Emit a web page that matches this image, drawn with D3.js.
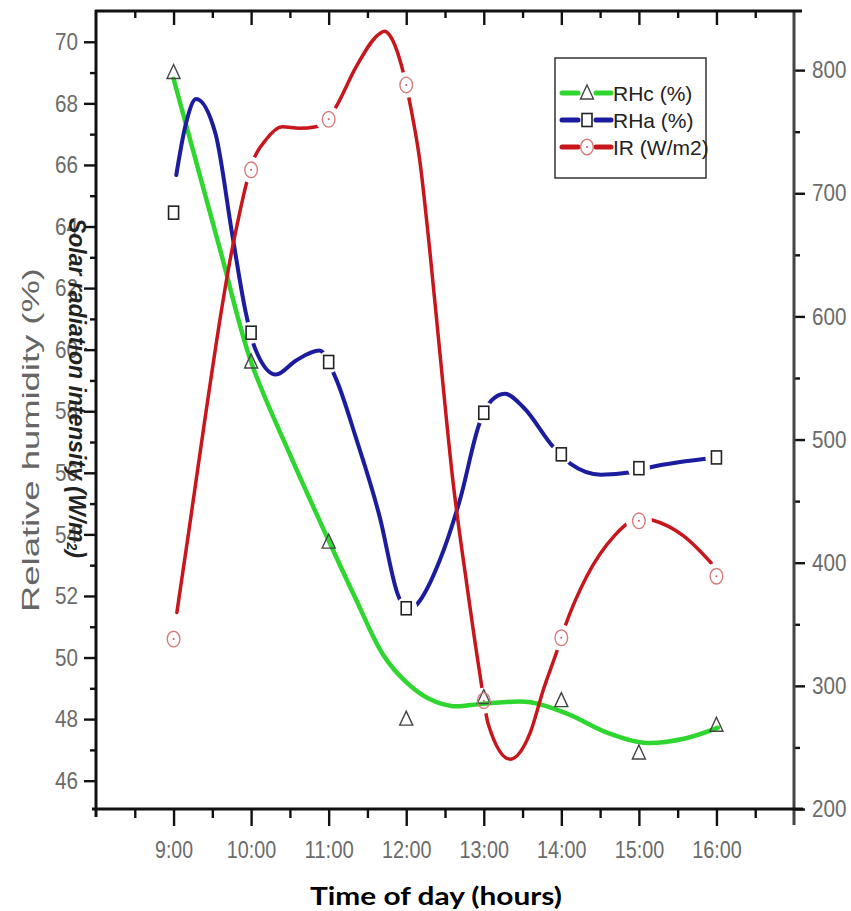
<!DOCTYPE html>
<html><head><meta charset="utf-8">
<script src="https://cdn.jsdelivr.net/npm/d3@7"></script>
<style>html,body{margin:0;padding:0;background:#fff;} svg{display:block;}</style>
</head><body>
<script>
// ---------------- data ----------------
const hours = [9, 10, 11, 12, 13, 14, 15, 16];
const hourLabels = ["9:00", "10:00", "11:00", "12:00", "13:00", "14:00", "15:00", "16:00"];
const xMinorTicks = [8.5, 9.5, 10.5, 11.5, 12.5, 13.5, 14.5, 15.5, 16.5];

// measured points (markers)
const rhcValues = [69.0, 59.6, 53.75, 48.0, 48.7, 48.6, 46.9, 47.8];   // RHc (%) - left axis
const rhaValues = [64.45, 60.55, 59.6, 51.6, 57.95, 56.6, 56.15, 56.5]; // RHa (%) - left axis
const irValues  = [338, 719, 760, 788, 288, 339, 434, 389];             // IR (W/m2) - right axis

// smoothed curves as drawn in the figure: [hour, value]
const rhcCurve = [[9.0,68.8],[9.6,63.25],[10.0,59.6],[10.5,56.6],[11.0,53.8],[11.35,51.9],[11.7,50.1],[12.0,49.2],[12.3,48.65],[12.6,48.42],[13.0,48.5],[13.6,48.55],[14.08,48.17],[14.6,47.55],[15.06,47.23],[15.58,47.36],[16.02,47.72]];
const rhaCurve = [[9.035,65.67],[9.15,67.24],[9.29,68.14],[9.54,67.02],[9.755,63.77],[9.93,61.22],[10.045,60.08],[10.32,59.19],[10.58,59.65],[10.88,59.97],[11.095,59.05],[11.35,57.15],[11.66,54.55],[11.89,52.06],[12.02,51.5],[12.15,51.76],[12.43,53.14],[12.69,55.1],[12.95,57.64],[13.1,58.35],[13.27,58.57],[13.51,58.13],[13.9,56.83],[14.12,56.29],[14.51,55.94],[14.9,56.02],[15.15,56.18],[15.97,56.48]];
const irCurve  = [[9.043,359.5],[9.194,424.3],[9.41,518.9],[9.605,600],[9.734,647.6],[9.842,681.1],[9.929,705.4],[10.014,724.4],[10.188,743.2],[10.403,754],[10.62,752.7],[10.836,754],[11.0,761],[11.095,770.2],[11.354,802.7],[11.66,829.8],[11.72,831.5],[11.785,828.4],[11.937,804.1],[12.057,770.2],[12.174,727],[12.303,654],[12.43,573],[12.605,464.9],[12.778,383.8],[12.95,309.5],[13.058,268.9],[13.34,240.5],[13.6,262.2],[13.77,297.3],[13.944,328.3],[14.05,348.6],[14.33,389.2],[14.68,421.6],[14.94,435.1],[15.05,436.5],[15.15,435.1],[15.58,421.6],[15.93,400]];

const leftTicks = [46, 48, 50, 52, 54, 56, 58, 60, 62, 64, 66, 68, 70];
const leftMinorTicks = [47, 49, 51, 53, 55, 57, 59, 61, 63, 65, 67, 69];
const rightTicks = [200, 300, 400, 500, 600, 700, 800];
const rightMinorTicks = [250, 350, 450, 550, 650, 750];

const legendLabels = ["RHc (%)", "RHa (%)", "IR (W/m2)"];
const leftTitle = "Relative humidity (%)";
const rightTitle = "Solar radiation intensity (W/m";
const xTitle = "Time of day (hours)";

// ---------------- layout ----------------
const W = 851, H = 911;
const plot = {left: 96, right: 794, top: 11, bottom: 809};
const colors = {rhc: "#2fd62f", rha: "#1c1c9e", ir: "#c8161d"};
const tickFont = "'Liberation Sans',Arial,sans-serif";

const svg = d3.select("body").append("svg").attr("width", W).attr("height", H);
svg.append("rect").attr("width", W).attr("height", H).attr("fill", "#fff");
const defs = svg.append("defs");

const x = d3.scaleLinear().domain([8, 17]).range([plot.left, plot.right]);
const yL = d3.scaleLinear().domain([45.08, 71.0]).range([plot.bottom, plot.top]);
const yR = d3.scaleLinear().domain([200, 848]).range([plot.bottom, plot.top]);

function narrowLen(s) {
  return [...s].reduce((a, c) => a + (c === ":" ? 3.5 : 11.5), 0);
}
function styleAxis(g, w) {
  g.select(".domain").remove();
  g.selectAll(".tick line").attr("stroke", "#111").attr("stroke-width", w);
  g.selectAll(".tick text").attr("font-family", tickFont).attr("font-size", 24).attr("fill", "#6b6b6b")
    .each(function () {
      const t = d3.select(this), s = t.text();
      if (s) t.attr("textLength", narrowLen(s)).attr("lengthAdjust", "spacingAndGlyphs");
    });
}

// left axis
svg.append("g").attr("transform", `translate(${plot.left},0)`)
  .call(d3.axisLeft(yL).tickValues(leftTicks).tickSize(12).tickPadding(6).tickFormat(d3.format("d")))
  .call(g => styleAxis(g, 2.4));
svg.append("g").attr("transform", `translate(${plot.left},0)`)
  .call(d3.axisLeft(yL).tickValues(leftMinorTicks).tickSize(6).tickFormat(""))
  .call(g => styleAxis(g, 2.4));
// right axis
svg.append("g").attr("transform", `translate(${plot.right},0)`)
  .call(d3.axisRight(yR).tickValues(rightTicks).tickSize(11).tickPadding(7).tickFormat(d3.format("d")))
  .call(g => styleAxis(g, 2.4));
svg.append("g").attr("transform", `translate(${plot.right},0)`)
  .call(d3.axisRight(yR).tickValues(rightMinorTicks).tickSize(6).tickFormat(""))
  .call(g => styleAxis(g, 2.4));
// bottom axis
svg.append("g").attr("transform", `translate(0,${plot.bottom})`)
  .call(d3.axisBottom(x).tickValues(hours).tickSize(17).tickPadding(15).tickFormat((d, i) => hourLabels[i]))
  .call(g => styleAxis(g, 2.4));
svg.append("g").attr("transform", `translate(0,${plot.bottom})`)
  .call(d3.axisBottom(x).tickValues(xMinorTicks).tickSize(9).tickFormat(""))
  .call(g => styleAxis(g, 2.4));
// top axis (ticks inward)
svg.append("g").attr("transform", `translate(0,${plot.top})`)
  .call(d3.axisBottom(x).tickValues(hours).tickSize(14).tickFormat(""))
  .call(g => styleAxis(g, 2.4));
svg.append("g").attr("transform", `translate(0,${plot.top})`)
  .call(d3.axisBottom(x).tickValues(xMinorTicks).tickSize(7).tickFormat(""))
  .call(g => styleAxis(g, 2.4));

// axis frame lines
svg.append("line").attr("x1", plot.left).attr("x2", plot.left).attr("y1", plot.top - 1).attr("y2", plot.bottom + 8)
  .attr("stroke", "#111").attr("stroke-width", 3);
svg.append("line").attr("x1", plot.right).attr("x2", plot.right).attr("y1", plot.top - 1).attr("y2", plot.bottom + 16)
  .attr("stroke", "#444").attr("stroke-width", 3);
svg.append("line").attr("x1", plot.left - 1).attr("x2", plot.right + 8).attr("y1", plot.top).attr("y2", plot.top)
  .attr("stroke", "#111").attr("stroke-width", 3);
svg.append("line").attr("x1", plot.left - 4).attr("x2", plot.right + 9).attr("y1", plot.bottom).attr("y2", plot.bottom)
  .attr("stroke", "#111").attr("stroke-width", 3);

// ---------------- curves ----------------
function gapMask(id, pts, r) {
  const m = defs.append("mask").attr("id", id).attr("maskUnits", "userSpaceOnUse")
    .attr("x", 0).attr("y", 0).attr("width", W).attr("height", H);
  m.append("rect").attr("width", W).attr("height", H).attr("fill", "#fff");
  m.selectAll("circle").data(pts).join("circle")
    .attr("cx", d => d[0]).attr("cy", d => d[1]).attr("r", r).attr("fill", "#000");
}
const rhaPts = hours.map((h, i) => [x(h), yL(rhaValues[i])]);
const irPts = hours.map((h, i) => [x(h), yR(irValues[i])]);
const rhcPts = hours.map((h, i) => [x(h), yL(rhcValues[i])]);
gapMask("gap-rha", rhaPts, 11);
gapMask("gap-ir", irPts, 13);

const lineC = d3.line().x(d => x(d[0])).y(d => yL(d[1])).curve(d3.curveCatmullRom.alpha(0.5));
const lineL = d3.line().x(d => x(d[0])).y(d => yL(d[1])).curve(d3.curveMonotoneX);
const lineR = d3.line().x(d => x(d[0])).y(d => yR(d[1])).curve(d3.curveMonotoneX);

svg.append("path").attr("d", lineC(rhcCurve)).attr("fill", "none")
  .attr("stroke", colors.rhc).attr("stroke-width", 4.5).attr("stroke-linecap", "round");
svg.append("path").attr("d", lineL(rhaCurve)).attr("fill", "none").attr("mask", "url(#gap-rha)")
  .attr("stroke", colors.rha).attr("stroke-width", 4).attr("stroke-linecap", "round");
svg.append("path").attr("d", lineR(irCurve)).attr("fill", "none").attr("mask", "url(#gap-ir)")
  .attr("stroke", colors.ir).attr("stroke-width", 3.5).attr("stroke-linecap", "round");

// ---------------- markers ----------------
function triangle(g, cx, cy) {
  g.append("path").attr("d", `M${cx},${cy - 8}L${cx + 6.5},${cy + 6}L${cx - 6.5},${cy + 6}Z`)
    .attr("fill", "none").attr("stroke", "#444").attr("stroke-width", 1.4);
}
function square(g, cx, cy) {
  g.append("rect").attr("x", cx - 5).attr("y", cy - 6.5).attr("width", 10).attr("height", 13)
    .attr("fill", "none").attr("stroke", "#222").attr("stroke-width", 1.6);
}
function ring(g, cx, cy) {
  g.append("ellipse").attr("cx", cx).attr("cy", cy).attr("rx", 6.3).attr("ry", 7.8)
    .attr("fill", "none").attr("stroke", "#d97a7a").attr("stroke-width", 1.4);
  g.append("circle").attr("cx", cx).attr("cy", cy).attr("r", 1).attr("fill", "#c56");
}
const mk = svg.append("g");
rhcPts.forEach(p => triangle(mk, p[0], p[1]));
rhaPts.forEach(p => square(mk, p[0], p[1]));
irPts.forEach(p => ring(mk, p[0], p[1]));

// ---------------- legend ----------------
const lg = svg.append("g");
lg.append("rect").attr("x", 555).attr("y", 58).attr("width", 151).attr("height", 120)
  .attr("fill", "#fff").attr("stroke", "#333").attr("stroke-width", 1.5);
const legendColors = [colors.rhc, colors.rha, colors.ir];
const legendMarkers = [triangle, square, ring];
legendLabels.forEach((lab, i) => {
  const cy = 93 + i * 27;
  lg.append("line").attr("x1", 562).attr("x2", 578).attr("y1", cy).attr("y2", cy)
    .attr("stroke", legendColors[i]).attr("stroke-width", 5).attr("stroke-linecap", "round");
  lg.append("line").attr("x1", 596).attr("x2", 611).attr("y1", cy).attr("y2", cy)
    .attr("stroke", legendColors[i]).attr("stroke-width", 5).attr("stroke-linecap", "round");
  legendMarkers[i](lg, 587, cy);
  lg.append("text").attr("x", 613).attr("y", cy).attr("dominant-baseline", "central")
    .attr("font-family", "'Liberation Sans',Arial,sans-serif").attr("font-size", 21).attr("fill", "#222")
    .text(lab);
});

// ---------------- titles ----------------
svg.append("text").attr("transform", "translate(30,440) rotate(-90)")
  .attr("text-anchor", "middle").attr("dominant-baseline", "central")
  .attr("font-family", "'Liberation Sans',Arial,sans-serif").attr("font-size", 24).attr("fill", "#666")
  .attr("textLength", 344).attr("lengthAdjust", "spacingAndGlyphs")
  .text(leftTitle);

const rt = svg.append("text").attr("transform", "translate(77,388) rotate(90)")
  .attr("text-anchor", "middle").attr("dominant-baseline", "central")
  .attr("font-family", "'Liberation Sans',Arial,sans-serif").attr("font-size", 23)
  .attr("font-style", "italic").attr("font-weight", "bold").attr("fill", "#222");
rt.append("tspan").text(rightTitle);
rt.append("tspan").attr("font-size", 14).attr("dy", 5).text("2");
rt.append("tspan").attr("dy", -5).text(")");

svg.append("text").attr("x", 436).attr("y", 905).attr("text-anchor", "middle")
  .attr("font-family", "Lato,'Open Sans',sans-serif").attr("font-weight", "bold").attr("font-size", 25)
  .attr("fill", "#000").attr("textLength", 252).attr("lengthAdjust", "spacingAndGlyphs")
  .text(xTitle);
</script>
</body></html>
